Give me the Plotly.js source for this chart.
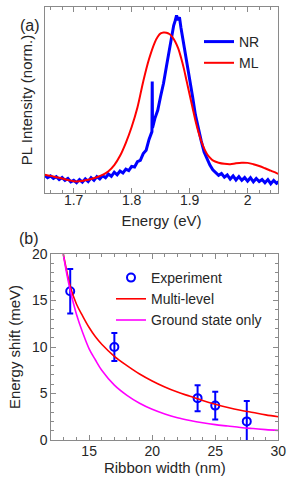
<!DOCTYPE html>
<html>
<head>
<meta charset="utf-8">
<script src="https://cdn.plot.ly/plotly-3.0.1.min.js"></script>
<style>html,body{margin:0;padding:0;background:#fff;}#chart{width:295px;height:478px;}</style>
</head>
<body>
<div id="chart"></div>
<script>
// ---------- Panel (a): PL spectra ----------
const nrEnergy = [1.650,1.655,1.660,1.665,1.670,1.675,1.680,1.685,1.690,1.695,1.700,1.705,1.710,1.715,1.720,1.725,1.730,1.735,1.740,1.745,1.750,1.755,1.760,1.765,1.770,1.775,1.780,1.785,1.790,1.795,1.800,1.805,1.810,1.815,1.820,1.825,1.830,1.835,1.8355,1.836,1.840,1.845,1.850,1.855,1.860,1.865,1.870,1.8725,1.875,1.8775,1.880,1.8825,1.885,1.890,1.895,1.900,1.905,1.910,1.915,1.920,1.925,1.930,1.935,1.940,1.945,1.950,1.955,1.960,1.965,1.970,1.975,1.980,1.985,1.990,1.995,2.000,2.005,2.010,2.015,2.020,2.025,2.030,2.035,2.040,2.045,2.050,2.055];
const nrIntensity = [0.095,0.082,0.092,0.078,0.088,0.072,0.083,0.068,0.078,0.060,0.068,0.055,0.072,0.058,0.076,0.062,0.082,0.068,0.088,0.076,0.093,0.082,0.102,0.090,0.112,0.098,0.118,0.108,0.128,0.120,0.143,0.140,0.168,0.175,0.212,0.230,0.288,0.330,0.600,0.350,0.400,0.445,0.520,0.590,0.680,0.770,0.860,0.900,0.925,0.955,0.930,0.945,0.890,0.800,0.720,0.610,0.520,0.420,0.340,0.280,0.220,0.180,0.150,0.125,0.112,0.095,0.105,0.085,0.097,0.075,0.092,0.070,0.088,0.068,0.083,0.064,0.082,0.060,0.078,0.062,0.073,0.055,0.072,0.050,0.068,0.052,0.063];

const mlEnergy = [1.650,1.660,1.670,1.680,1.690,1.700,1.710,1.720,1.730,1.740,1.750,1.760,1.770,1.780,1.790,1.800,1.810,1.820,1.830,1.840,1.845,1.850,1.855,1.860,1.865,1.870,1.875,1.880,1.885,1.890,1.895,1.900,1.905,1.910,1.915,1.920,1.925,1.930,1.935,1.940,1.950,1.960,1.970,1.980,1.990,2.000,2.010,2.020,2.030,2.040,2.050,2.055];
const mlIntensity = [0.098,0.092,0.085,0.078,0.070,0.063,0.063,0.068,0.075,0.085,0.097,0.117,0.150,0.200,0.270,0.355,0.460,0.600,0.720,0.810,0.840,0.858,0.863,0.862,0.855,0.840,0.815,0.780,0.730,0.670,0.600,0.530,0.460,0.390,0.330,0.280,0.240,0.210,0.190,0.175,0.163,0.157,0.155,0.160,0.163,0.162,0.155,0.145,0.133,0.120,0.107,0.100];

const energyTicks = [1.7, 1.8, 1.9, 2.0];
const energyTickLabels = ["1.7", "1.8", "1.9", "2"];

// ---------- Panel (b): energy shift vs ribbon width ----------
const expWidth = [13.5, 17, 23.6, 25, 27.5];
const expShift = [16.0, 10.0, 4.5, 3.7, 2.0];
const expError = [2.4, 1.5, 1.4, 1.5, 2.2];

const modelWidth = [12.95,13.25,13.5,14,14.5,15,15.5,16,17,18,19,20,21,22,23,24,25,26,27,28,29,30];
const multiLevel = [20.0,18.0,16.5,14.6,13.3,12.1,11.1,10.3,9.0,8.0,7.1,6.35,5.7,5.15,4.7,4.25,3.85,3.5,3.2,2.95,2.7,2.5];
const groundOnly = [20.0,17.7,16.1,13.5,11.5,9.8,8.6,7.5,5.9,4.8,3.95,3.3,2.8,2.4,2.1,1.85,1.65,1.5,1.35,1.23,1.12,1.03];

const FONT = "Liberation Sans, Arial, sans-serif";
const TXT = "#262626";
const AX = "#8a8a8a";

const W = 295, H = 478;
const fx = p => p / W;
const fy = p => 1 - p / H;

const traces = [
  {x: nrEnergy, y: nrIntensity, mode: "lines", name: "NR", line: {color: "#0000ff", width: 3}, xaxis: "x", yaxis: "y", legend: "legend"},
  {x: mlEnergy, y: mlIntensity, mode: "lines", name: "ML", line: {color: "#ff0000", width: 2, shape: "spline"}, xaxis: "x", yaxis: "y", legend: "legend"},
  {x: expWidth, y: expShift, mode: "markers", name: "Experiment",
   marker: {symbol: "circle-open", size: 8, color: "#0000ff", line: {width: 2, color: "#0000ff"}},
   error_y: {type: "data", array: expError, visible: true, color: "#0000ff", thickness: 2, width: 3},
   xaxis: "x2", yaxis: "y2", legend: "legend2"},
  {x: modelWidth, y: multiLevel, mode: "lines", name: "Multi-level", line: {color: "#ff0000", width: 1.6, shape: "spline"}, xaxis: "x2", yaxis: "y2", legend: "legend2"},
  {x: modelWidth, y: groundOnly, mode: "lines", name: "Ground state only", line: {color: "#ff00ff", width: 1.6, shape: "spline"}, xaxis: "x2", yaxis: "y2", legend: "legend2"}
];

const baseAxis = {
  showline: true, linecolor: AX, linewidth: 1, mirror: "ticks",
  ticks: "inside", tickcolor: AX, tickwidth: 1, ticklen: 5,
  showgrid: false, zeroline: false, automargin: true,
  tickfont: {family: FONT, size: 14, color: TXT}
};

const layout = {
  width: W, height: H,
  margin: {l: 0, r: 0, t: 0, b: 0, autoexpand: false},
  paper_bgcolor: "#fff", plot_bgcolor: "#fff",
  font: {family: FONT, color: TXT},
  showlegend: true,
  xaxis: Object.assign({}, baseAxis, {
    domain: [fx(44.7), fx(278.3)], anchor: "y",
    range: [1.65, 2.053], tickvals: energyTicks, ticktext: energyTickLabels,
    ticklabelstandoff: -6,
    minor: {dtick: 0.02, ticks: "inside", ticklen: 3, tickcolor: AX, showgrid: false},
    title: {text: "Energy (eV)", font: {family: FONT, size: 15, color: TXT}, standoff: 8}
  }),
  yaxis: Object.assign({}, baseAxis, {
    domain: [fy(193), fy(7)], anchor: "x",
    range: [0, 1], ticks: "", showticklabels: false,
    title: {text: "PL Intensity (norm.)", font: {family: FONT, size: 15, color: TXT}, standoff: 7}
  }),
  xaxis2: Object.assign({}, baseAxis, {
    domain: [fx(51.3), fx(278.3)], anchor: "y2",
    range: [12, 30], tickvals: [15, 20, 25, 30],
    ticklabelstandoff: -2,
    minor: {dtick: 1, ticks: "inside", ticklen: 3, tickcolor: AX, showgrid: false},
    title: {text: "Ribbon width (nm)", font: {family: FONT, size: 15, color: TXT}, standoff: 1}
  }),
  yaxis2: Object.assign({}, baseAxis, {
    domain: [fy(440), fy(254)], anchor: "x2",
    range: [0, 20], tickvals: [0, 5, 10, 15, 20],
    minor: {dtick: 1, ticks: "inside", ticklen: 3, tickcolor: AX, showgrid: false},
    title: {text: "Energy shift (meV)", font: {family: FONT, size: 15, color: TXT}, standoff: 7}
  }),
  legend: {x: fx(199), y: fy(26), xanchor: "left", yanchor: "top", bgcolor: "rgba(0,0,0,0)",
           font: {family: FONT, size: 14, color: TXT}, borderwidth: 0, tracegroupgap: 0},
  legend2: {x: fx(111), y: fy(262), xanchor: "left", yanchor: "top", bgcolor: "rgba(0,0,0,0)",
            font: {family: FONT, size: 14, color: TXT}, borderwidth: 0, tracegroupgap: 0},
  annotations: [
    {text: "(a)", x: fx(18), y: fy(15), xref: "paper", yref: "paper", showarrow: false, font: {family: FONT, size: 16, color: TXT}},
    {text: "(b)", x: fx(17), y: fy(238), xref: "paper", yref: "paper", showarrow: false, font: {family: FONT, size: 16, color: TXT}}
  ]
};

Plotly.newPlot("chart", traces, layout, {staticPlot: true, displayModeBar: false});
</script>
</body>
</html>
